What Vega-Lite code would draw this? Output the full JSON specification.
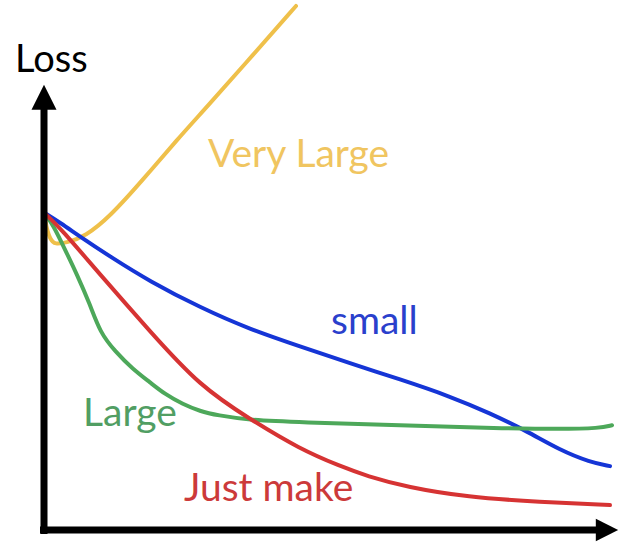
{
  "$schema": "https://vega.github.io/schema/vega-lite/v6.json",
  "width": 619,
  "height": 542,
  "autosize": {"type": "fit", "contains": "padding"},
  "padding": 0,
  "background": "white",
  "config": {"view": {"stroke": null}},
  "datasets": {
    "curves": [
      {"series": "Very Large", "x": -0.2, "y": 66.6},
      {"series": "Very Large", "x": 0.2, "y": 61.6},
      {"series": "Very Large", "x": 1.2, "y": 58.2},
      {"series": "Very Large", "x": 2.2, "y": 57.2},
      {"series": "Very Large", "x": 4.6, "y": 57.6},
      {"series": "Very Large", "x": 8.2, "y": 58.8},
      {"series": "Very Large", "x": 13.2, "y": 62.8},
      {"series": "Very Large", "x": 19.8, "y": 70.2},
      {"series": "Very Large", "x": 26.6, "y": 78.2},
      {"series": "Very Large", "x": 32.6, "y": 84.8},
      {"series": "Very Large", "x": 41.8, "y": 95.2},
      {"series": "Very Large", "x": 50.4, "y": 105},
      {"series": "small", "x": 0, "y": 63.6},
      {"series": "small", "x": 3.2, "y": 61.6},
      {"series": "small", "x": 7.2, "y": 58.8},
      {"series": "small", "x": 13.2, "y": 54.8},
      {"series": "small", "x": 21.2, "y": 49.8},
      {"series": "small", "x": 31.2, "y": 44.6},
      {"series": "small", "x": 41.2, "y": 40.2},
      {"series": "small", "x": 51.2, "y": 36.8},
      {"series": "small", "x": 61.2, "y": 33.4},
      {"series": "small", "x": 71.2, "y": 30.2},
      {"series": "small", "x": 81.2, "y": 26.8},
      {"series": "small", "x": 89.2, "y": 23.4},
      {"series": "small", "x": 96.6, "y": 19.8},
      {"series": "small", "x": 103.2, "y": 16},
      {"series": "small", "x": 109.2, "y": 13.6},
      {"series": "small", "x": 113.2, "y": 12.8},
      {"series": "Large", "x": 0, "y": 63.6},
      {"series": "Large", "x": 1.8, "y": 61.2},
      {"series": "Large", "x": 4.2, "y": 56.2},
      {"series": "Large", "x": 6.6, "y": 51.2},
      {"series": "Large", "x": 9.2, "y": 45.2},
      {"series": "Large", "x": 11.2, "y": 39.6},
      {"series": "Large", "x": 14.2, "y": 35.8},
      {"series": "Large", "x": 17.8, "y": 32.2},
      {"series": "Large", "x": 21.2, "y": 29.6},
      {"series": "Large", "x": 24.2, "y": 27.2},
      {"series": "Large", "x": 27.8, "y": 25.2},
      {"series": "Large", "x": 31.2, "y": 23.8},
      {"series": "Large", "x": 34.6, "y": 23},
      {"series": "Large", "x": 41.2, "y": 22},
      {"series": "Large", "x": 51.2, "y": 21.6},
      {"series": "Large", "x": 71.2, "y": 21},
      {"series": "Large", "x": 91.2, "y": 20.4},
      {"series": "Large", "x": 103.2, "y": 20.2},
      {"series": "Large", "x": 111.2, "y": 20.4},
      {"series": "Large", "x": 113.6, "y": 21},
      {"series": "Just make", "x": 0, "y": 63.6},
      {"series": "Just make", "x": 3.2, "y": 60.6},
      {"series": "Just make", "x": 11.2, "y": 51.2},
      {"series": "Just make", "x": 21.2, "y": 39.8},
      {"series": "Just make", "x": 31.2, "y": 28.8},
      {"series": "Just make", "x": 41.2, "y": 22.2},
      {"series": "Just make", "x": 51.2, "y": 16.2},
      {"series": "Just make", "x": 59.2, "y": 12.8},
      {"series": "Just make", "x": 64.6, "y": 10.8},
      {"series": "Just make", "x": 72.6, "y": 8.6},
      {"series": "Just make", "x": 84.6, "y": 6.6},
      {"series": "Just make", "x": 99.2, "y": 5.6},
      {"series": "Just make", "x": 113.2, "y": 5}
    ],
    "labels": [
      {"series": "Very Large", "text": "Very Large", "x": 32.8, "y": 72.8},
      {"series": "small", "text": "small", "x": 57.4, "y": 39.2},
      {"series": "Large", "text": "Large", "x": 7.8, "y": 20.8},
      {"series": "Just make", "text": "Just make", "x": 28.0, "y": 5.8}
    ],
    "axes": [
      {"x": 0, "y": -0.8, "x2": 0, "y2": 84.4},
      {"x": -0.8, "y": 0, "x2": 111.4, "y2": 0}
    ],
    "upArrow": [{"x": 0, "y": 86.7}],
    "rightArrow": [{"x": 112.6, "y": 0}],
    "title": [{"text": "Loss", "x": -5.8, "y": 91.8}]
  },
  "resolve": {"scale": {"color": "independent"}},
  "encoding": {
    "x": {"field": "x", "type": "quantitative", "axis": null, "scale": {"domain": [-8.8, 115], "nice": false, "zero": false}},
    "y": {"field": "y", "type": "quantitative", "axis": null, "scale": {"domain": [-2.2, 106.2], "nice": false, "zero": false}}
  },
  "layer": [
    {
      "data": {"name": "curves"},
      "mark": {"type": "line", "strokeWidth": 4, "interpolate": "basis", "strokeCap": "round", "clip": true},
      "encoding": {
        "detail": {"field": "series"},
        "color": {"field": "series", "type": "nominal", "legend": null,
          "scale": {"domain": ["Very Large", "small", "Large", "Just make"], "range": ["#EFC04A", "#1535D6", "#4DA85A", "#D63333"]}},
        "order": {"field": "x", "type": "quantitative"}
      }
    },
    {
      "data": {"name": "axes"},
      "mark": {"type": "rule", "color": "black", "strokeWidth": 7},
      "encoding": {
        "x2": {"field": "x2"},
        "y2": {"field": "y2"}
      }
    },
    {
      "data": {"name": "upArrow"},
      "mark": {"type": "point", "shape": "M0,-1L1,1L-1,1Z", "filled": true, "color": "black", "size": 625, "opacity": 1}
    },
    {
      "data": {"name": "rightArrow"},
      "mark": {"type": "point", "shape": "M1,0L-1,-1L-1,1Z", "filled": true, "color": "black", "size": 500, "opacity": 1}
    },
    {
      "data": {"name": "labels"},
      "mark": {"type": "text", "font": "Lato", "fontSize": 39, "align": "left", "baseline": "alphabetic"},
      "encoding": {
        "text": {"field": "text"},
        "color": {"field": "series", "type": "nominal", "legend": null,
          "scale": {"domain": ["Very Large", "small", "Large", "Just make"], "range": ["#F0C560", "#2A40CC", "#519E63", "#CC3A3A"]}}
      }
    },
    {
      "data": {"name": "title"},
      "mark": {"type": "text", "font": "Lato", "fontSize": 38, "align": "left", "baseline": "alphabetic", "color": "black"},
      "encoding": {"text": {"field": "text"}}
    }
  ]
}
